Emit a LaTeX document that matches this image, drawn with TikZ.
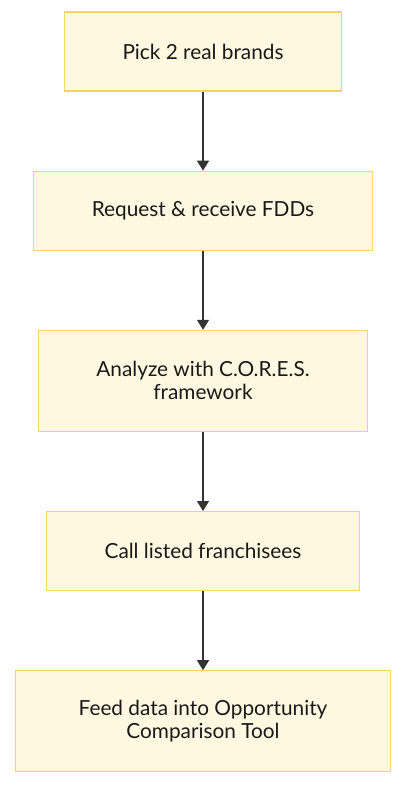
\documentclass[tikz,border=0pt]{standalone}
\usepackage{fontspec}
\setmainfont{Lato}
\usetikzlibrary{positioning,arrows.meta}
\definecolor{boxfill}{HTML}{FFF8E1}
\definecolor{boxline}{HTML}{F2D46B}
\definecolor{arrowgray}{HTML}{333333}
\begin{document}
\begin{tikzpicture}[x=1pt,y=-1pt,
    stepbox/.style={draw=boxline,fill=boxfill,line width=1.2pt,align=center,
      inner xsep=58pt,inner ysep=20pt,minimum height=79pt,font=\fontsize{20.8}{23}\selectfont,
      text=black!90},
    tallbox/.style={stepbox,minimum height=101pt},
    link/.style={draw=arrowgray,line width=1.3pt,-{Triangle[width=12pt,length=10pt]}},
    node distance=79pt]
  \useasboundingbox (0,0) rectangle (405,786);
  % boxes
  \node[stepbox] (pick) at (203,51.5) {Pick 2 real brands};
  \node[stepbox,below=of pick] (request) {Request \& receive FDDs};
  \node[tallbox,below=of request] (analyze) {Analyze with C.O.R.E.S.\\framework};
  \node[stepbox,below=of analyze] (call) {Call listed franchisees};
  \node[tallbox,below=of call,inner xsep=63pt] (feed) {Feed data into Opportunity\\Comparison Tool};
  % arrows
  \draw[link] (pick) -- (request);
  \draw[link] (request) -- (analyze);
  \draw[link] (analyze) -- (call);
  \draw[link] (call) -- (feed);
\end{tikzpicture}
\end{document}
